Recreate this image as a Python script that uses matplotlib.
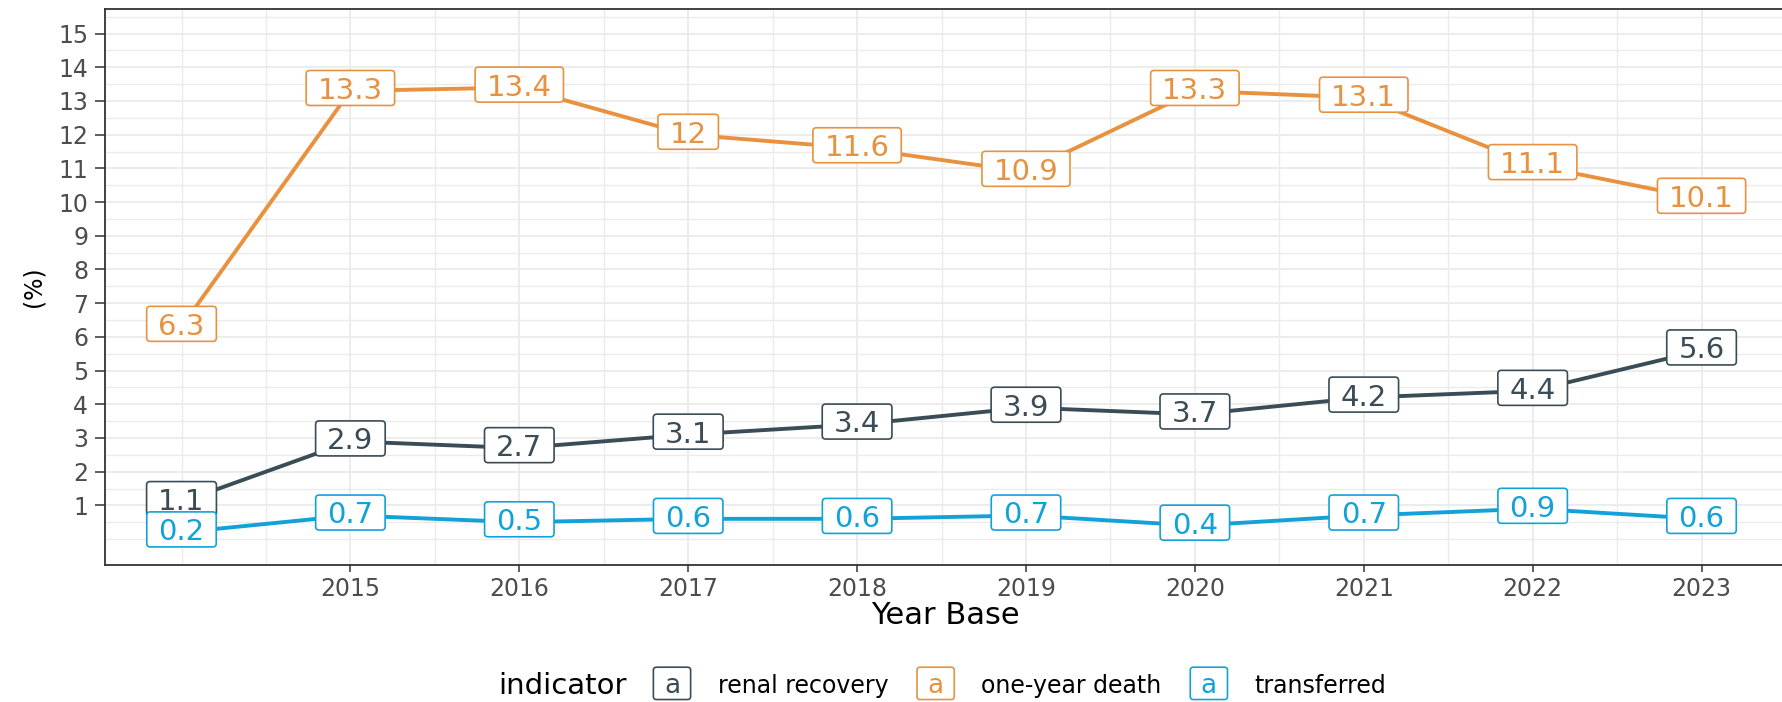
import matplotlib
matplotlib.use("Agg")
import matplotlib.pyplot as plt
from matplotlib.patches import BoxStyle

years = [2014, 2015, 2016, 2017, 2018, 2019, 2020, 2021, 2022, 2023]
renal_recovery = [1.1, 2.9, 2.7, 3.1, 3.4, 3.9, 3.7, 4.2, 4.4, 5.6]
one_year_death = [6.3, 13.3, 13.4, 12, 11.6, 10.9, 13.3, 13.1, 11.1, 10.1]
transferred = [0.2, 0.7, 0.5, 0.6, 0.6, 0.7, 0.4, 0.7, 0.9, 0.6]

indicators = ["renal recovery", "one-year death", "transferred"]
series = [renal_recovery, one_year_death, transferred]
colors = ["#3A4C56", "#E8913F", "#13A2D8"]

x_ticks = [2015, 2016, 2017, 2018, 2019, 2020, 2021, 2022, 2023]
y_ticks = list(range(1, 16))

W, H = 1782, 702
plt.rcParams["font.family"] = ["DejaVu Sans"]


def label_box(x0, y0, width, height, mutation_size):
    # ggplot-ish label: wide side padding, text vertically centred
    padx = 0.4 * mutation_size
    pad_bottom = 0.02 * mutation_size
    pad_top = 0.22 * mutation_size
    round_box = BoxStyle.Round(pad=0, rounding_size=0.12)
    return round_box(x0 - padx, y0 - pad_bottom,
                     width + 2 * padx, height + pad_bottom + pad_top,
                     mutation_size)


fig = plt.figure(figsize=(W / 100, H / 100), dpi=100)
ax = fig.add_axes([105 / W, 1 - 565 / H, (1786 - 105) / W, (565 - 9) / H])

for name, vals, col in zip(indicators, series, colors):
    ax.plot(years, vals, color=col, lw=2.8, zorder=2, solid_capstyle="butt")
    for x, v in zip(years, vals):
        ax.text(x, v, "{:g}".format(v), color=col, fontsize=21,
                ha="center", va="center", zorder=3,
                bbox=dict(boxstyle=label_box, fc="white", ec=col, lw=1.2))

ax.set_xlim(2013.547, 2023.453)
ax.set_ylim(-0.77, 15.73)

ax.set_xticks(x_ticks)
ax.set_xticks([2014 + 0.5 * i for i in range(20) if (2014 + 0.5 * i) not in x_ticks],
              minor=True)
ax.set_yticks(y_ticks)
ax.set_yticks([0.5 * i for i in range(32) if (0.5 * i) not in y_ticks], minor=True)

ax.grid(which="major", color="#EBEBEB", lw=1.3)
ax.grid(which="minor", color="#EBEBEB", lw=1.0)
ax.set_axisbelow(True)

ax.tick_params(axis="both", which="major", labelsize=17, labelcolor="#4D4D4D",
               color="#333333", width=1.1)
ax.tick_params(axis="y", which="major", length=7, pad=5)
ax.tick_params(axis="x", which="major", length=5, pad=4)
ax.tick_params(which="minor", length=0)

for sp in ax.spines.values():
    sp.set_color("#333333")
    sp.set_linewidth(1.3)

ax.set_xlabel("Year Base", fontsize=22, va="center")
ax.xaxis.set_label_coords(0.5, -(615 - 565) / 556)
ax.set_ylabel("(%)", fontsize=17, va="center")
ax.yaxis.set_label_coords(-(105 - 33) / 1681, 0.5)

# legend row at the bottom: title, then boxed "a" keys with labels
renderer = fig.canvas.get_renderer()
yc = 1 - 686 / H
x = 498
title = fig.text(x / W, yc, "indicator", fontsize=21, ha="left", va="center")
x = title.get_window_extent(renderer).x1 + 25
for name, col in zip(indicators, colors):
    fig.text((x + 20.5) / W, yc, "a", color=col, fontsize=19, ha="center", va="center",
             bbox=dict(boxstyle=label_box, fc="white", ec=col, lw=1.2))
    x += 41 + 25
    lab = fig.text(x / W, yc, name, fontsize=17, ha="left", va="center")
    x = lab.get_window_extent(renderer).x1 + 27

fig.savefig("out.png", dpi=100)
